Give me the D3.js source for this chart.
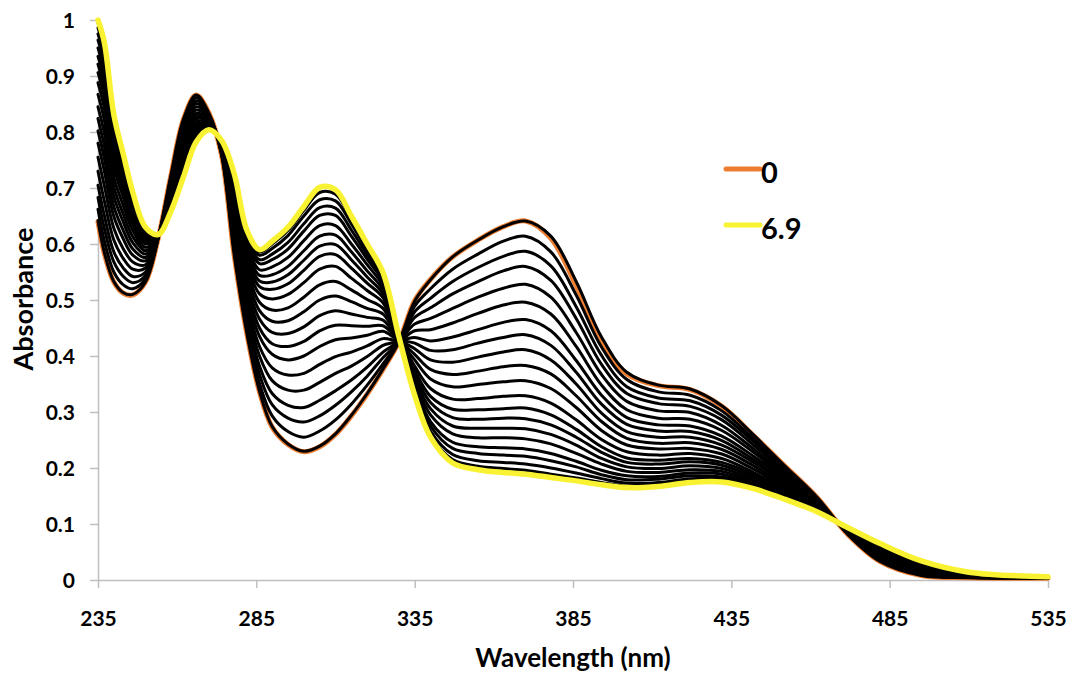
<!DOCTYPE html>
<html>
<head>
<meta charset="utf-8">
<script src="https://d3js.org/d3.v7.min.js"></script>
<style>
  body { margin: 0; background: #fff; }
  text { font-family: Lato, "Open Sans", sans-serif; font-weight: bold; fill: #000; }
</style>
</head>
<body>
<svg id="chart" width="1071" height="677"></svg>
<script>
// wavelength grid (nm) the spectra were read at
const wavelengths = [235, 237, 240, 243, 246, 250, 254, 258, 262, 266, 270, 274, 278, 282, 286,
  290, 295, 300, 305, 310, 315, 320, 325, 330, 335, 340, 347, 355, 363, 370, 378, 386, 394,
  402, 412, 422, 432, 442, 452, 462, 472, 482, 495, 510, 535];

// one row per wavelength: first column = 0 equiv, last column = 6.9 equiv,
// the 20 columns in between are the intermediate additions
const absorbance = [
  [.64, .642, .662, .683, .705, .730, .755, .780, .802, .824, .845, .867, .888, .906, .921, .935, .950, .964, .975, .986, .995, 1.0],
  [.583, .585, .606, .628, .651, .677, .704, .730, .753, .775, .798, .821, .843, .862, .877, .892, .907, .922, .934, .945, .954, .96],
  [.532, .533, .550, .568, .586, .607, .628, .649, .667, .685, .702, .720, .738, .753, .765, .777, .789, .801, .810, .819, .827, .831],
  [.512, .513, .527, .542, .557, .574, .591, .609, .624, .639, .653, .668, .683, .696, .705, .715, .725, .735, .743, .750, .756, .76],
  [.509, .510, .520, .531, .542, .555, .568, .580, .591, .602, .613, .624, .635, .644, .652, .659, .666, .674, .679, .685, .689, .692],
  [.532, .532, .538, .544, .550, .557, .563, .570, .576, .582, .588, .594, .600, .605, .608, .612, .616, .620, .623, .626, .629, .63],
  [.61, .610, .610, .611, .611, .612, .612, .613, .613, .614, .614, .614, .615, .615, .615, .616, .616, .616, .617, .617, .617, .617],
  [.722, .722, .718, .714, .711, .706, .702, .697, .693, .689, .686, .682, .678, .675, .672, .670, .667, .664, .663, .661, .659, .658],
  [.823, .823, .817, .811, .805, .797, .790, .783, .777, .771, .764, .758, .752, .747, .743, .739, .734, .730, .727, .724, .722, .72],
  [.866, .866, .861, .856, .851, .845, .839, .833, .828, .823, .818, .813, .808, .804, .801, .797, .794, .790, .788, .785, .783, .782],
  [.834, .834, .832, .830, .829, .827, .824, .822, .821, .819, .817, .815, .813, .812, .811, .809, .808, .807, .806, .805, .804, .804],
  [.759, .760, .761, .762, .764, .766, .767, .769, .771, .772, .774, .775, .777, .778, .779, .780, .781, .782, .783, .784, .785, .785],
  [.58, .581, .589, .598, .606, .617, .627, .637, .646, .655, .663, .672, .681, .688, .694, .700, .706, .711, .716, .720, .724, .726],
  [.44, .441, .451, .462, .473, .486, .499, .512, .523, .534, .546, .557, .568, .577, .584, .592, .599, .607, .612, .618, .622, .625],
  [.336, .337, .351, .367, .382, .400, .417, .435, .450, .466, .481, .496, .511, .524, .534, .544, .554, .565, .572, .580, .586, .59],
  [.273, .274, .293, .313, .333, .356, .379, .403, .422, .442, .462, .482, .502, .519, .532, .545, .559, .572, .582, .592, .600, .605],
  [.242, .243, .265, .289, .312, .339, .366, .393, .417, .440, .463, .486, .510, .529, .545, .560, .576, .591, .603, .615, .624, .63],
  [.229, .230, .255, .282, .308, .339, .369, .400, .426, .452, .479, .505, .531, .553, .571, .588, .606, .623, .636, .650, .660, .667],
  [.238, .239, .266, .293, .321, .353, .385, .417, .445, .472, .500, .527, .555, .578, .596, .614, .633, .651, .665, .679, .692, .701],
  [.26, .261, .286, .312, .338, .369, .399, .429, .455, .481, .507, .533, .560, .581, .599, .616, .633, .651, .664, .677, .689, .697],
  [.293, .294, .314, .336, .357, .382, .407, .432, .454, .475, .497, .518, .539, .557, .572, .586, .600, .614, .625, .636, .645, .65],
  [.332, .333, .348, .364, .380, .399, .418, .437, .453, .469, .485, .501, .517, .530, .541, .552, .563, .573, .581, .589, .596, .60],
  [.376, .377, .386, .397, .407, .419, .431, .444, .454, .464, .475, .485, .495, .504, .511, .518, .525, .532, .537, .542, .546, .549],
  [.425, .425, .426, .426, .427, .428, .428, .429, .430, .430, .431, .431, .432, .432, .433, .433, .434, .434, .434, .435, .435, .435],
  [.499, .498, .489, .479, .469, .457, .445, .433, .423, .413, .403, .393, .382, .374, .367, .360, .354, .347, .342, .337, .333, .33],
  [.537, .536, .520, .503, .486, .467, .447, .427, .410, .393, .376, .359, .342, .328, .317, .306, .295, .283, .275, .266, .259, .255],
  [.577, .577, .555, .533, .511, .485, .459, .434, .411, .389, .367, .345, .323, .305, .290, .275, .261, .246, .235, .224, .215, .209],
  [.607, .607, .582, .558, .533, .505, .476, .447, .423, .398, .373, .349, .324, .304, .287, .271, .254, .238, .226, .213, .203, .197],
  [.631, .631, .605, .578, .552, .521, .491, .460, .433, .407, .381, .354, .328, .306, .289, .271, .254, .236, .223, .210, .199, .192],
  [.641, .641, .614, .587, .560, .528, .496, .465, .438, .411, .383, .356, .329, .307, .288, .270, .252, .234, .221, .207, .196, .189],
  [.610, .614, .586, .561, .535, .505, .475, .445, .419, .393, .368, .342, .316, .295, .277, .260, .243, .226, .213, .200, .189, .183],
  [.525, .533, .509, .488, .467, .442, .417, .392, .371, .350, .329, .308, .286, .269, .255, .241, .226, .212, .202, .191, .182, .177],
  [.428, .434, .416, .401, .385, .367, .348, .330, .314, .298, .283, .267, .251, .238, .228, .217, .207, .196, .188, .181, .174, .17],
  [.368, .371, .358, .345, .333, .319, .304, .290, .278, .265, .253, .241, .229, .218, .210, .202, .194, .186, .179, .173, .168, .165],
  [.347, .348, .336, .325, .315, .302, .289, .277, .266, .255, .244, .234, .223, .214, .207, .199, .192, .185, .180, .174, .170, .167],
  [.34, .341, .330, .320, .310, .299, .287, .275, .265, .255, .245, .235, .226, .217, .211, .204, .197, .191, .186, .181, .177, .174],
  [.31, .311, .302, .294, .286, .276, .267, .257, .249, .241, .233, .225, .217, .210, .205, .199, .194, .189, .184, .180, .177, .175],
  [.258, .259, .252, .247, .241, .234, .228, .221, .215, .210, .204, .198, .192, .188, .184, .180, .176, .173, .170, .167, .164, .163],
  [.203, .203, .200, .196, .192, .188, .184, .180, .176, .173, .169, .166, .162, .159, .157, .155, .152, .150, .148, .146, .145, .144],
  [.148, .148, .146, .145, .143, .142, .140, .138, .136, .135, .133, .132, .130, .129, .128, .127, .126, .125, .124, .123, .122, .122],
  [.08, .080, .081, .082, .082, .083, .084, .085, .086, .087, .087, .088, .089, .090, .090, .091, .091, .092, .092, .092, .093, .093],
  [.033, .033, .035, .037, .039, .041, .043, .046, .047, .049, .051, .053, .055, .057, .058, .059, .061, .062, .063, .064, .065, .065],
  [.008, .008, .010, .011, .013, .015, .016, .018, .020, .021, .023, .024, .026, .027, .028, .029, .030, .031, .032, .033, .034, .034],
  [.004, .004, .005, .005, .006, .007, .007, .008, .009, .009, .010, .010, .011, .011, .012, .012, .013, .013, .013, .014, .014, .014],
  [.003, .003, .003, .003, .004, .004, .004, .004, .004, .005, .005, .005, .005, .005, .005, .005, .006, .006, .006, .006, .006, .006]
];

const legendLabels = ["0", "6.9"];
const xTicks = [235, 285, 335, 385, 435, 485, 535];
const yTicks = [0, 0.1, 0.2, 0.3, 0.4, 0.5, 0.6, 0.7, 0.8, 0.9, 1];

const svg = d3.select("#chart");

let x = d3.scaleLinear().domain([235, 535]).range([98, 1048]);
let y = d3.scaleLinear().domain([0, 1]).range([580, 20]);

// turn the table into one series per column
let nSeries = absorbance[0].length;
let series = d3.range(nSeries).map(function(j) {
  return wavelengths.map((w, i) => ({ w: w, a: absorbance[i][j] }));
});

function seriesColor(j) {
  if (j === 0) return "#ED7D31";
  if (j === nSeries - 1) return "#F8F232";
  return "#000";
}
function seriesWidth(j) {
  if (j === 0) return 5;
  if (j === nSeries - 1) return 5.5;
  return 3;
}

// axes
let yAxis = svg.append("g")
  .attr("transform", "translate(98,0)")
  .call(d3.axisLeft(y).tickValues(yTicks).tickSizeInner(8).tickSizeOuter(0).tickPadding(15)
    .tickFormat(d => (d === 0 || d === 1) ? String(d) : d.toFixed(1)));
yAxis.selectAll("text").attr("dy", "0.36em").style("font-size", "21px");

let xAxis = svg.append("g")
  .attr("transform", "translate(0,580)")
  .call(d3.axisBottom(x).tickValues(xTicks).tickSizeInner(8).tickSizeOuter(0));
xAxis.selectAll("text").attr("y", 46).attr("dy", 0).style("font-size", "21px");

svg.selectAll(".domain, .tick line")
  .attr("stroke", "#BFBFBF")
  .attr("stroke-width", 1.5);

// spectra: orange first, black titration steps, yellow drawn last on top
let line = d3.line()
  .defined(d => d.a != null)
  .x(d => x(d.w))
  .y(d => y(d.a))
  .curve(d3.curveCatmullRom.alpha(0.5));

svg.append("g").selectAll("path")
  .data(series)
  .enter().append("path")
  .attr("d", line)
  .attr("fill", "none")
  .attr("stroke", (d, j) => seriesColor(j))
  .attr("stroke-width", (d, j) => seriesWidth(j))
  .attr("stroke-linejoin", "round")
  .attr("stroke-linecap", "round");

// axis titles
svg.append("text")
  .attr("transform", "translate(33,299) rotate(-90)")
  .attr("text-anchor", "middle")
  .style("font-size", "27px")
  .text("Absorbance");

svg.append("text")
  .attr("x", 573)
  .attr("y", 667)
  .attr("text-anchor", "middle")
  .style("font-size", "26px")
  .text("Wavelength (nm)");

// legend (only first and last additions)
let legend = svg.append("g").attr("transform", "translate(726,169)");
legend.selectAll("g")
  .data(legendLabels)
  .enter().append("g")
  .attr("transform", (d, i) => "translate(0," + i * 56 + ")")
  .each(function(d, i) {
    let g = d3.select(this);
    let j = i === 0 ? 0 : nSeries - 1;
    g.append("line")
      .attr("x1", 0).attr("x2", 34)
      .attr("stroke", seriesColor(j))
      .attr("stroke-width", 5)
      .attr("stroke-linecap", "round");
    g.append("text")
      .attr("x", 35)
      .attr("y", 14)
      .style("font-size", "29px")
      .text(d);
  });
</script>
</body>
</html>
